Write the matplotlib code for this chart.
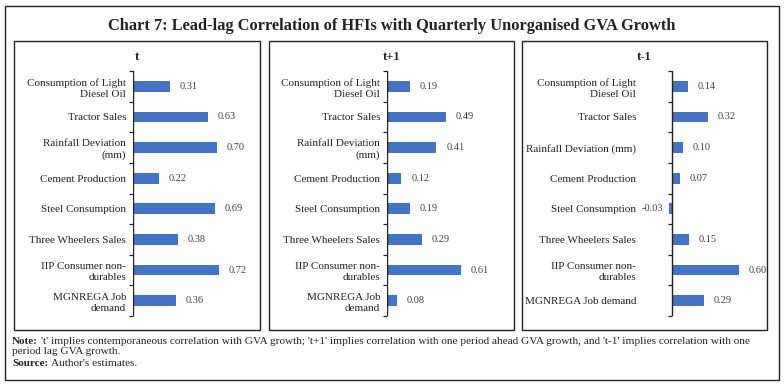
import matplotlib.pyplot as plt
from matplotlib.patches import Rectangle
import numpy as np

# Data
labels_a = ["Consumption of Light\nDiesel Oil", "Tractor Sales", "Rainfall Deviation\n(mm)",
            "Cement Production", "Steel Consumption", "Three Wheelers Sales",
            "IIP Consumer non-\ndurables", "MGNREGA Job\ndemand"]
labels_c = ["Consumption of Light\nDiesel Oil", "Tractor Sales", "Rainfall Deviation (mm)",
            "Cement Production", "Steel Consumption", "Three Wheelers Sales",
            "IIP Consumer non-\ndurables", "MGNREGA Job demand"]
vals_t = [0.31, 0.63, 0.70, 0.22, 0.69, 0.38, 0.72, 0.36]
vals_t1 = [0.19, 0.49, 0.41, 0.12, 0.19, 0.29, 0.61, 0.08]
vals_tm1 = [0.14, 0.32, 0.10, 0.07, -0.03, 0.15, 0.60, 0.29]
titles = ["t", "t+1", "t-1"]

W, H = 784, 388
plt.rcParams['font.family'] = ['Liberation Serif', 'DejaVu Serif']
fig = plt.figure(figsize=(W / 100, H / 100), dpi=100)

def fx(x):
    return x / W

def fy(y):
    return 1 - y / H

def box(x0, y0, x1, y1):
    fig.patches.append(Rectangle((fx(x0), fy(y1)), fx(x1 - x0), (y1 - y0) / H,
                                 transform=fig.transFigure, fill=False,
                                 edgecolor='#222222', linewidth=1.0))

# outer frame and the three panels
box(5, 6, 779, 380)
panels = [(14, 260), (269, 514), (522, 767)]
for p in panels:
    box(p[0], 41, p[1], 330)

fig.text(fx(392), fy(26), "Chart 7: Lead-lag Correlation of HFIs with Quarterly Unorganised GVA Growth",
         ha='center', va='center', fontsize=11.8, fontweight='bold', color='#222222')

bar_color = '#4472C4'
# axes: (left px, right px, xmin, xmax)
specs = [(133, 256, 0, 1.03, labels_a, vals_t),
         (387, 510, 0, 1.02, labels_a, vals_t1),
         (643, 763, -0.26, 0.815, labels_c, vals_tm1)]

for i, (l, r, xmin, xmax, labs, vals) in enumerate(specs):
    top, bot = 71, 316
    ax = fig.add_axes([fx(l), fy(bot), fx(r - l), (bot - top) / H])
    n = len(vals)
    ypos = np.arange(n)
    bounds = np.arange(n + 1) - 0.5
    ax.barh(ypos, vals, height=0.35, color=bar_color, zorder=2)
    ax.set_xlim(xmin, xmax)
    ax.set_ylim(n - 0.5, -0.5)
    ax.set_yticks(ypos)
    ax.set_yticklabels(labs, linespacing=1.3)
    ax.tick_params(axis='y', length=0, pad=5, labelsize=8, labelcolor='#222222')
    ax.set_xticks([])
    for s in ['top', 'right', 'bottom', 'left']:
        ax.spines[s].set_visible(False)
    # category axis line at x=0 with boundary tick marks pointing left
    ax.axvline(0, color='#222222', linewidth=1.0, zorder=3)
    tick_len = 4 * (xmax - xmin) / (r - l)
    ax.hlines(bounds, -tick_len, 0, color='#222222', linewidth=0.9, clip_on=False, zorder=3)
    ax.patch.set_visible(False)
    for y, v in zip(ypos, vals):
        if v >= 0:
            ax.annotate(f"{v:.2f}", (v, y), xytext=(7, 0), textcoords='offset points',
                        ha='left', va='center', fontsize=7.5, color='#404040')
        else:
            ax.annotate(f"{v:.2f}", (v, y), xytext=(-4, 0), textcoords='offset points',
                        ha='right', va='center', fontsize=7.5, color='#404040')
    cx = (panels[i][0] + panels[i][1]) / 2
    fig.text(fx(cx), fy(57), titles[i], ha='center', va='center', fontsize=9,
             fontweight='bold', color='#222222')

# notes
fig.canvas.draw()
rend = fig.canvas.get_renderer()
n1 = fig.text(fx(12), fy(341), "Note:", ha='left', va='center', fontsize=8, fontweight='bold', color='#222222')
s1 = fig.text(fx(12), fy(364), "Source:", ha='left', va='center', fontsize=8, fontweight='bold', color='#222222')
w1 = n1.get_window_extent(rend).x1
w2 = s1.get_window_extent(rend).x1
fig.text(fx(w1 + 3), fy(341), "'t' implies contemporaneous correlation with GVA growth; 't+1' implies correlation with one period ahead GVA growth, and 't-1' implies correlation with one",
         ha='left', va='center', fontsize=8.1, color='#222222')
fig.text(fx(12), fy(352), "period lag GVA growth.", ha='left', va='center', fontsize=8.1, color='#222222')
fig.text(fx(w2 + 3), fy(364), "Author's estimates.", ha='left', va='center', fontsize=8.1, color='#222222')

fig.savefig("out.png", dpi=100)
